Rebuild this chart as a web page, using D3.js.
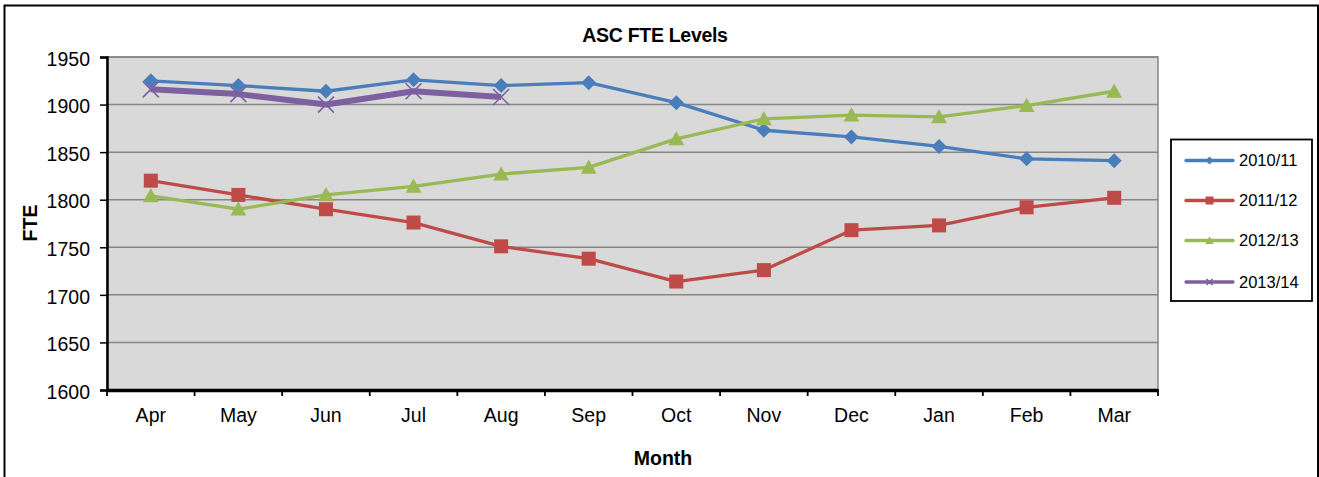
<!DOCTYPE html>
<html>
<head>
<meta charset="utf-8">
<script src="https://cdn.jsdelivr.net/npm/d3@7"></script>
<style>
html,body{margin:0;padding:0;background:#fff;}
svg{display:block;font-family:"Liberation Sans",Arial,sans-serif;}
</style>
</head>
<body>
<svg id="chart" width="1319" height="477"></svg>
<script>
const months = ["Apr","May","Jun","Jul","Aug","Sep","Oct","Nov","Dec","Jan","Feb","Mar"];
const yTicks = [1600,1650,1700,1750,1800,1850,1900,1950];
const seriesNames = ["2010/11","2011/12","2012/13","2013/14"];
const fy1011 = [1925,1920,1914,1926,1920,1923,1902,1873,1866,1856,1843,1841];
const fy1112 = [1820,1805,1790,1776,1751,1738,1714,1726,1768,1773,1792,1802];
const fy1213 = [1804,1790,1805,1814,1827,1834,1864,1885,1889,1887,1899,1914];
const fy1314 = [1916,1911,1900,1914,1908];
const seriesColors = ["#4A7EBB","#BE4B48","#98B954","#7D60A0"];
const seriesMarkers = ["diamond","square","triangle","x"];

const svg = d3.select("#chart");
const L = 107, R = 1158, T = 57, B = 390;
const x = d3.scaleBand().domain(months).range([L, R]).padding(0);
const y = d3.scaleLinear().domain([1600,1950]).range([B, T]);
const cx = m => x(m) + x.bandwidth()/2;

// outer frame
svg.append("rect").attr("x",4.5).attr("y",5.5).attr("width",1313.5).attr("height",500)
  .attr("fill","#fff").attr("stroke","#000").attr("stroke-width",2);

// plot background
svg.append("rect").attr("x",L).attr("y",T).attr("width",R-L).attr("height",B-T)
  .attr("fill","#D9D9D9").attr("stroke","#868686").attr("stroke-width",1.5);

// gridlines
svg.append("g").selectAll("line").data(yTicks.filter(v=>v>1600)).join("line")
  .attr("x1",L).attr("x2",R).attr("y1",d=>y(d)).attr("y2",d=>y(d))
  .attr("stroke","#868686").attr("stroke-width",1.5);

// y axis
const yAxis = svg.append("g").attr("transform",`translate(${L},0)`)
  .call(d3.axisLeft(y).tickValues(yTicks).tickSize(7).tickPadding(10).tickFormat(d3.format("d")));
yAxis.select(".domain").attr("stroke","#000").attr("stroke-width",2.5);
yAxis.selectAll(".tick line").attr("stroke","#000").attr("stroke-width",1.5);
yAxis.selectAll(".tick text").attr("font-size",19.5).attr("fill","#000")
  .attr("font-family","Liberation Sans, Arial, sans-serif").attr("dy","0.42em");

// x axis
const xAxis = svg.append("g").attr("transform",`translate(0,${B})`)
  .call(d3.axisBottom(x).tickSize(0).tickPadding(18));
xAxis.select(".domain").attr("stroke","#000").attr("stroke-width",3.5);
xAxis.selectAll(".tick text").attr("font-size",19.5).attr("fill","#000")
  .attr("font-family","Liberation Sans, Arial, sans-serif");
// boundary ticks
const bounds = months.map(m => x(m)).concat([R]);
svg.append("g").selectAll("line").data(bounds).join("line")
  .attr("x1",d=>d).attr("x2",d=>d).attr("y1",B).attr("y2",B+6)
  .attr("stroke","#000").attr("stroke-width",1.8);

// titles
svg.append("text").attr("x",655).attr("y",42).attr("text-anchor","middle")
  .attr("font-size",19.5).attr("font-weight","bold").attr("letter-spacing","-0.3").text("ASC FTE Levels");
svg.append("text").attr("x",663).attr("y",465).attr("text-anchor","middle")
  .attr("font-size",19.5).attr("font-weight","bold").text("Month");
svg.append("text").attr("transform","translate(37,223) rotate(-90)").attr("text-anchor","middle")
  .attr("font-size",19.5).attr("font-weight","bold").text("FTE");

function drawMarker(g, type, color, px, py, s) {
  if (type === "diamond") {
    g.append("path").attr("d",`M${px},${py-s}L${px+s},${py}L${px},${py+s}L${px-s},${py}Z`).attr("fill",color);
  } else if (type === "square") {
    g.append("rect").attr("x",px-s).attr("y",py-s).attr("width",2*s).attr("height",2*s).attr("fill",color);
  } else if (type === "triangle") {
    g.append("path").attr("d",`M${px},${py-s*1.05}L${px+s*1.05},${py+s*0.85}L${px-s*1.05},${py+s*0.85}Z`).attr("fill",color);
  } else if (type === "x") {
    g.append("path").attr("d",`M${px-s},${py-s}L${px+s},${py+s}M${px-s},${py+s}L${px+s},${py-s}`)
      .attr("stroke",color).attr("stroke-width",1.6).attr("fill","none");
  }
}

const allSeries = [fy1011, fy1112, fy1213, fy1314];
const lineGen = d3.line().x((d,i)=>cx(months[i])).y(d=>y(d));
const widths = [3.3,3.3,3.3,6];
const markerSize = [7.5,7,7.5,8];
allSeries.forEach((vals, si) => {
  const g = svg.append("g");
  g.append("path").datum(vals).attr("d", lineGen).attr("fill","none")
    .attr("stroke", seriesColors[si]).attr("stroke-width", widths[si]).attr("stroke-linejoin","round");
  vals.forEach((v,i) => drawMarker(g, seriesMarkers[si], seriesColors[si], cx(months[i]), y(v), markerSize[si]));
});

// legend
const lg = svg.append("g");
lg.append("rect").attr("x",1171).attr("y",139.5).attr("width",141).attr("height",161.5)
  .attr("fill","#fff").attr("stroke","#000").attr("stroke-width",1.8);
const legY = [160.5,200.5,240.5,282];
seriesNames.forEach((name, si) => {
  const yy = legY[si];
  lg.append("line").attr("x1",1186).attr("x2",1233).attr("y1",yy).attr("y2",yy)
    .attr("stroke",seriesColors[si]).attr("stroke-width",3.3).attr("stroke-linecap","round");
  drawMarker(lg, seriesMarkers[si], seriesColors[si], 1209.5, yy, si===3?3:4);
  lg.append("text").attr("x",1239).attr("y",yy).attr("dy","0.36em")
    .attr("font-size",16.5).attr("fill","#000").text(name);
});
</script>
</body>
</html>
